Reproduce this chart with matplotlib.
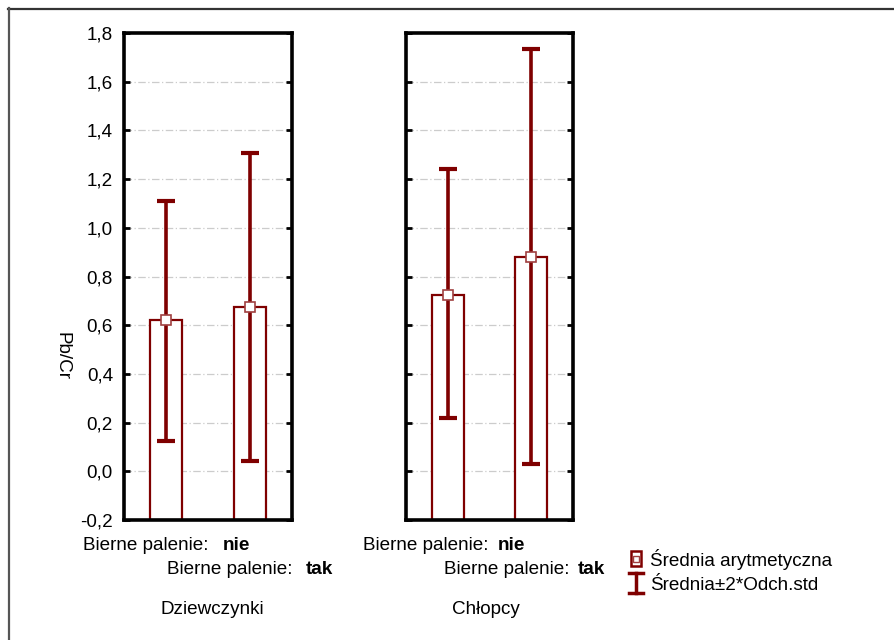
import matplotlib
matplotlib.use("Agg")
import matplotlib.pyplot as plt
from matplotlib.lines import Line2D
from matplotlib.patches import Rectangle

plt.rcParams['font.family'] = ['Liberation Sans', 'DejaVu Sans']

# ---- data ----
groups = ["Dziewczynki", "Chłopcy"]
levels = ["nie", "tak"]
means = {"Dziewczynki": [0.62, 0.675], "Chłopcy": [0.725, 0.88]}
upper = {"Dziewczynki": [1.11, 1.307], "Chłopcy": [1.24, 1.735]}
lower = {"Dziewczynki": [0.125, 0.043], "Chłopcy": [0.22, 0.03]}
yticks = [-0.2, 0.0, 0.2, 0.4, 0.6, 0.8, 1.0, 1.2, 1.4, 1.6, 1.8]
ytick_labels = ["-0,2", "0,0", "0,2", "0,4", "0,6", "0,8", "1,0", "1,2", "1,4", "1,6", "1,8"]
ylabel = "Pb/Cr"
factor_label = "Bierne palenie:  "
legend_labels = ["Średnia arytmetyczna", "Średnia±2*Odch.std"]

RED = "#7f0000"
W, H = 895, 640
fig = plt.figure(figsize=(W / 100, H / 100), dpi=100)

def fx(px):
    return px / W

def fy(py):
    return 1 - py / H

panels = [(124, 292), (406, 573)]
ytop, ybot = 33, 520
FS = 13.6

for gi, (g, (x0, x1)) in enumerate(zip(groups, panels)):
    ax = fig.add_axes([fx(x0), fy(ybot), fx(x1) - fx(x0), fy(ytop) - fy(ybot)])
    xs = list(range(len(levels)))
    m = means[g]
    ax.set_xlim(-0.5, 1.5)
    ax.set_ylim(-0.2, 1.8)
    ax.bar(xs, [v + 0.2 for v in m], bottom=-0.2, width=0.38, facecolor="white",
           edgecolor=RED, linewidth=1.6, zorder=2)
    for i in xs:
        ax.errorbar(i, m[i], yerr=[[m[i] - lower[g][i]], [upper[g][i] - m[i]]],
                    fmt="none", ecolor=RED, elinewidth=2.6, capsize=6.5, capthick=3, zorder=3)
    ax.plot(xs, m, linestyle="none", marker="s", markersize=6.5, markerfacecolor="white",
            markeredgecolor="#a04040", markeredgewidth=1.2, zorder=4)
    ax.set_yticks(yticks)
    ax.yaxis.grid(True, color="#cccccc", linestyle=(0, (6, 2, 1, 2)), linewidth=0.9, zorder=0)
    ax.set_axisbelow(True)
    ax.set_xticks(xs)
    ax.set_xticklabels([])
    ax.tick_params(axis="x", direction="in", length=4, width=2, color="black")
    ax.tick_params(axis="y", direction="in", length=4, width=2, left=True, right=True,
                   color="black", labelsize=FS, pad=8)
    for s in ax.spines.values():
        s.set_linewidth(2.6)
        s.set_color("black")
    if gi == 0:
        ax.set_yticklabels(ytick_labels)
    else:
        ax.set_yticklabels([])

    # category labels
    row1_x = [83, 363][gi]
    row1_b = [223, 498][gi]
    row2_x = [167, 444][gi]
    row2_b = [306, 578][gi]
    fig.text(fx(row1_x), fy(546), factor_label, fontsize=FS, va="center", ha="left")
    fig.text(fx(row1_b), fy(546), levels[0], fontsize=FS, va="center", ha="left", fontweight="bold")
    fig.text(fx(row2_x), fy(569), factor_label, fontsize=FS, va="center", ha="left")
    fig.text(fx(row2_b), fy(569), levels[1], fontsize=FS, va="center", ha="left", fontweight="bold")
    fig.text(fx([212, 486][gi]), fy(610), g, fontsize=FS, va="center", ha="center")

fig.text(fx(62), fy(356), ylabel, fontsize=FS, rotation=-90, va="center", ha="center")

# legend
fig.add_artist(Rectangle((fx(631), fy(566)), fx(10), fy(551) - fy(566), transform=fig.transFigure,
                         facecolor="white", edgecolor=RED, linewidth=1.8))
fig.add_artist(Line2D([fx(636)], [fy(559)], transform=fig.transFigure, marker="s", markersize=5,
                      markerfacecolor="white", markeredgecolor="#a04040", markeredgewidth=1.0))
fig.text(fx(650), fy(560), legend_labels[0], fontsize=FS, va="center", ha="left")
fig.add_artist(Line2D([fx(636), fx(636)], [fy(573), fy(593)], transform=fig.transFigure, color=RED, lw=2.5))
fig.add_artist(Line2D([fx(629), fx(643)], [fy(573), fy(573)], transform=fig.transFigure, color=RED, lw=2.5))
fig.add_artist(Line2D([fx(629), fx(643)], [fy(593), fy(593)], transform=fig.transFigure, color=RED, lw=2.5))
fig.text(fx(650), fy(585), legend_labels[1], fontsize=FS, va="center", ha="left")

# outer frame
fig.add_artist(Line2D([fx(8), 1], [fy(8.5), fy(8.5)], transform=fig.transFigure, color="#333333", lw=1.6))
fig.add_artist(Line2D([fx(8.5), fx(8.5)], [fy(8), 0], transform=fig.transFigure, color="#555555", lw=1.6))

fig.savefig("out.png", dpi=100)
